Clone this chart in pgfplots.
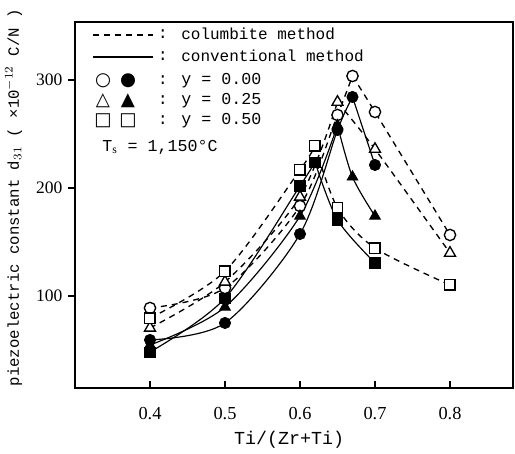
\documentclass[border=0pt]{standalone}
\usepackage{pgfplots}
\pgfplotsset{compat=1.18}
\usepackage{fontspec}
\setmainfont{Liberation Serif}
\setmonofont{Liberation Mono}
\newfontfamily\symfont{DejaVu Sans}
\begin{document}
\begin{tikzpicture}
\begin{axis}[
  at={(0,0)}, anchor=south west,
  width=262.8pt, height=219.6pt, scale only axis,
  xmin=0.3, xmax=0.884, ymin=14.8, ymax=353.7,
  xtick={0.4,0.5,0.6,0.7,0.8},
  ytick={100,200,300},
  xtick pos=bottom, ytick pos=left,
  xtick align=inside, ytick align=outside,
  major tick length=4pt,
  axis line style={line width=0.8pt},
  tick style={line width=0.7pt, black},
  /pgf/number format/assume math mode=true,
  xticklabel style={/pgf/number format/fixed, /pgf/number format/precision=1, /pgf/number format/fixed zerofill, font=\fontsize{11}{13}\selectfont, yshift=-8pt},
  yticklabel style={font=\fontsize{10.5}{12}\selectfont},
  xlabel={\ttfamily\fontsize{11}{13}\selectfont Ti/(Zr+Ti)},
  xlabel style={at={(axis description cs:0.489,-0.142)}, anchor=center},
  ylabel={\ttfamily\fontsize{9.4}{10}\selectfont piezoelectric constant d$_{31}$ ( ×10$^{-12}$ C/N )},
  ylabel style={at={(axis description cs:-0.14,0.52)}, anchor=center},
  clip=false,
]
% ---- lines: columbite method (dashed)
\tikzset{dl/.style={black, line width=0.8pt, dash pattern=on 3.6pt off 3pt, smooth, no markers}}
\tikzset{sl/.style={black, line width=0.7pt, smooth, no markers}}
\addplot[dl] coordinates {(0.4,88.9)(0.5,107.4)(0.6,183.3)(0.65,267.6)(0.67,303.7)};
\addplot[dl] coordinates {(0.67,303.7)(0.7,270.4)(0.8,156.5)};
\addplot[dl] coordinates {(0.4,70.4)(0.5,113)(0.6,191.7)(0.65,279.6)};
\addplot[dl] coordinates {(0.65,279.6)(0.7,236)(0.8,139.8)};
\addplot[dl] coordinates {(0.4,79.6)(0.5,123)(0.6,216.7)(0.62,238.9)};
\addplot[dl] coordinates {(0.62,238.9)(0.65,181.5)(0.7,144.4)(0.8,110.2)};
% ---- lines: conventional method (solid)
\addplot[sl] coordinates {(0.4,59.3)(0.5,75)(0.6,157.4)(0.65,253.7)(0.67,284.3)};
\addplot[sl] coordinates {(0.67,284.3)(0.7,221.3)};
\addplot[sl] coordinates {(0.4,54.6)(0.5,89.8)(0.6,174)(0.65,258)};
\addplot[sl] coordinates {(0.65,258)(0.67,210.2)(0.7,174)};
\addplot[sl] coordinates {(0.4,48.1)(0.5,98)(0.6,201.9)(0.62,224)};
\addplot[sl] coordinates {(0.62,224)(0.65,170.4)(0.7,130.6)};
% ---- marks
\addplot[only marks, mark=*, mark size=3.4pt, mark options={draw=black, fill=white, line width=0.8pt}]
  coordinates {(0.4,88.9)(0.5,107.4)(0.6,183.3)(0.65,267.6)(0.67,303.7)(0.7,270.4)(0.8,156.5)};
\addplot[only marks, mark=*, mark size=3.4pt, mark options={draw=black, fill=black}]
  coordinates {(0.4,59.3)(0.5,75)(0.6,157.4)(0.65,253.7)(0.67,284.3)(0.7,221.3)};
\addplot[only marks, mark=triangle*, mark size=3.8pt, mark options={draw=black, fill=white, line width=0.8pt}]
  coordinates {(0.4,70.4)(0.5,113)(0.6,191.7)(0.65,279.6)(0.7,236)(0.8,139.8)};
\addplot[only marks, mark=triangle*, mark size=3.8pt, mark options={draw=black, fill=black}]
  coordinates {(0.4,54.6)(0.5,89.8)(0.6,174)(0.65,258)(0.67,210.2)(0.7,174)};
\addplot[only marks, mark=square*, mark size=3.1pt, mark options={draw=black, fill=white, line width=0.8pt}]
  coordinates {(0.4,79.6)(0.5,123)(0.6,216.7)(0.62,238.9)(0.65,181.5)(0.7,144.4)(0.8,110.2)};
\addplot[only marks, mark=square*, mark size=3.1pt, mark options={draw=black, fill=black}]
  coordinates {(0.4,48.1)(0.5,98)(0.6,201.9)(0.62,224)(0.65,170.4)(0.7,130.6)};
\end{axis}
% ---- legend (pixel coordinates of the reference)
\begin{scope}[shift={(-45pt,232.8pt)}, x=0.6pt, y=-0.6pt]
  \draw[black, line width=0.8pt, dash pattern=on 3.6pt off 3pt] (93,35) -- (153,35);
  \draw[black, line width=0.7pt] (93,57) -- (153,57);
  \foreach \yy in {35,57,81,101,121} {\node[font=\ttfamily\fontsize{10}{12}\selectfont] at (163,\yy-1) {:};}
  \node[anchor=west, inner sep=0pt, font=\ttfamily\fontsize{9.6}{12}\selectfont] at (181,34) {columbite method};
  \node[anchor=west, inner sep=0pt, font=\ttfamily\fontsize{9.6}{12}\selectfont] at (181,56) {conventional method};
  \node[font=\symfont\fontsize{11}{12}\selectfont] at (103,81) {○};
  \node[font=\symfont\fontsize{11}{12}\selectfont] at (128,81) {●};
  \node[font=\symfont\fontsize{11}{12}\selectfont] at (103,101) {△};
  \node[font=\symfont\fontsize{11}{12}\selectfont] at (128,101) {▲};
  \node[font=\symfont\fontsize{11}{12}\selectfont] at (103,121) {□};
  \node[font=\symfont\fontsize{11}{12}\selectfont] at (128,121) {□};
  \node[anchor=west, inner sep=0pt, font=\ttfamily\fontsize{10}{12}\selectfont] at (181,81) {y = 0.00};
  \node[anchor=west, inner sep=0pt, font=\ttfamily\fontsize{10}{12}\selectfont] at (181,101) {y = 0.25};
  \node[anchor=west, inner sep=0pt, font=\ttfamily\fontsize{10}{12}\selectfont] at (181,121) {y = 0.50};
  \node[anchor=west, inner sep=0pt, font=\ttfamily\fontsize{10}{12}\selectfont] at (102,147) {T$_{\mathrm{s}}$ = 1,150°C};
  \pgfresetboundingbox
  \path[use as bounding box] (0,0) rectangle (515,453);
\end{scope}
\end{tikzpicture}
\end{document}
